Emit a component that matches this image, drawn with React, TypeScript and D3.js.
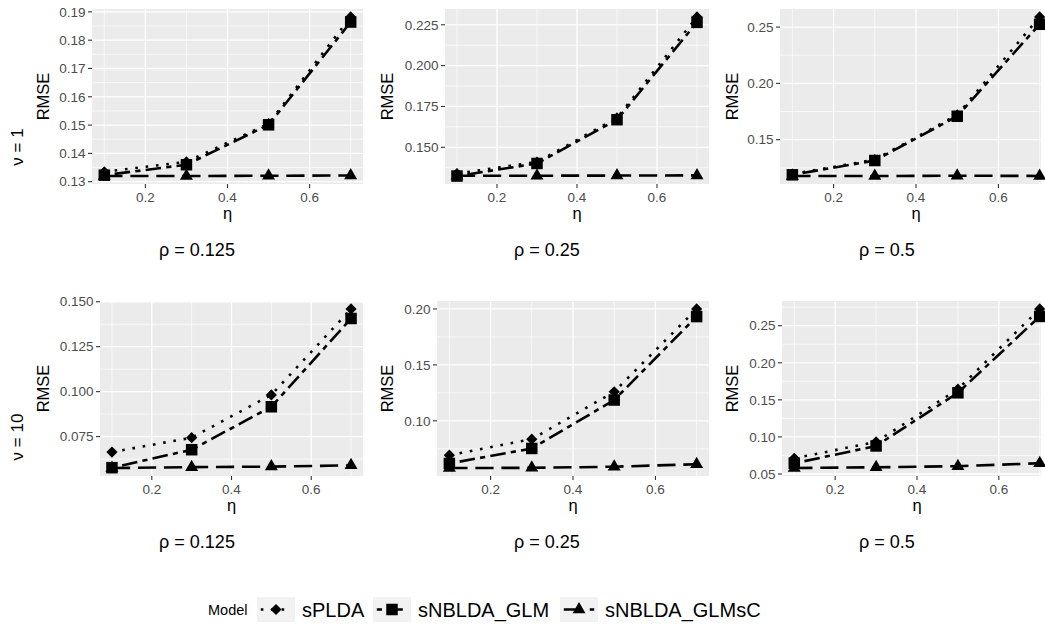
import React from 'react';
import * as d3 from 'd3';

// x values (eta) shared by every panel
const eta = [0.1, 0.3, 0.5, 0.7];
const xTicks = [0.2, 0.4, 0.6];
const models = ['sPLDA', 'sNBLDA_GLM', 'sNBLDA_GLMsC'];
const nuLabels = ['ν = 1', 'ν = 10'];
const rhoLabels = ['ρ = 0.125', 'ρ = 0.25', 'ρ = 0.5'];

// RMSE, nu = 1
const sPLDA_nu1 = [
  [0.1335, 0.1370, 0.1505, 0.1882],
  [0.1339, 0.1410, 0.1680, 0.2298],
  [0.1195, 0.1322, 0.1720, 0.2590],
];
const GLM_nu1 = [
  [0.1323, 0.1360, 0.1501, 0.1864],
  [0.1324, 0.1401, 0.1669, 0.2265],
  [0.1188, 0.1315, 0.1708, 0.2525],
];
const GLMsC_nu1 = [
  [0.1320, 0.1320, 0.1321, 0.1322],
  [0.1326, 0.1326, 0.1327, 0.1328],
  [0.1178, 0.1177, 0.1180, 0.1178],
];
// nu = 10
const sPLDA_nu10 = [
  [0.0664, 0.0744, 0.0982, 0.1460],
  [0.0693, 0.0836, 0.1260, 0.2000],
  [0.0712, 0.0932, 0.1644, 0.2726],
];
const GLM_nu10 = [
  [0.0577, 0.0677, 0.0916, 0.1407],
  [0.0619, 0.0753, 0.1186, 0.1932],
  [0.0644, 0.0878, 0.1595, 0.2625],
];
const GLMsC_nu10 = [
  [0.0575, 0.0580, 0.0583, 0.0590],
  [0.0578, 0.0580, 0.0590, 0.0612],
  [0.0580, 0.0590, 0.0605, 0.0645],
];

// y axis breaks per panel
const yTicks_nu1 = [
  ['0.13', '0.14', '0.15', '0.16', '0.17', '0.18', '0.19'],
  ['0.150', '0.175', '0.200', '0.225'],
  ['0.15', '0.20', '0.25'],
];
const yTicks_nu10 = [
  ['0.075', '0.100', '0.125', '0.150'],
  ['0.10', '0.15', '0.20'],
  ['0.05', '0.10', '0.15', '0.20', '0.25'],
];

const rows = [
  { series: [sPLDA_nu1, GLM_nu1, GLMsC_nu1], ticks: yTicks_nu1 },
  { series: [sPLDA_nu10, GLM_nu10, GLMsC_nu10], ticks: yTicks_nu10 },
];

// layout
const W = 1045, H = 628;
const font = 'Liberation Sans, Arial, Helvetica, sans-serif';
const panelLeft = [[92, 445, 780], [100, 437, 782]];
const colRight = [363, 709, 1052];
const panelTop = [9, 301];
const panelBottom = [184, 476];
const rmseX = [43, 387, 732];
const rhoX = [197, 547, 887];
const nuY = [147, 437];

const lw = 2.6;
// dotted, twodash, longdash
const dashes = [
  `${lw} ${3 * lw}`,
  `${2 * lw} ${2 * lw} ${6 * lw} ${2 * lw}`,
  `${7 * lw} ${3 * lw}`,
];

function Shape({ kind, x, y }: { kind: number; x: number; y: number }) {
  if (kind === 0) {
    const r = 5.6;
    return <path d={`M${x},${y - r}L${x + r},${y}L${x},${y + r}L${x - r},${y}Z`} fill="#000" />;
  }
  if (kind === 1) {
    const s = 11.5;
    return <rect x={x - s / 2} y={y - s / 2} width={s} height={s} fill="#000" />;
  }
  const r = 7.5;
  const hx = r * 0.866;
  return <path d={`M${x},${y - r}L${x + hx},${y + r / 2}L${x - hx},${y + r / 2}Z`} fill="#000" />;
}

function Panel({ ri, ci }: { ri: number; ci: number }) {
  const row = rows[ri];
  const vals = row.series.map((s) => s[ci]);
  const all = vals.flat();
  const lo = d3.min(all)!, hi = d3.max(all)!;
  const pad = (hi - lo) * 0.05;
  const x0 = panelLeft[ri][ci], x1 = colRight[ci];
  const top = panelTop[ri], bottom = panelBottom[ri];
  const rectRight = Math.min(x1, 1041);
  const x = d3.scaleLinear().domain([0.07, 0.73]).range([x0, x1]);
  const y = d3.scaleLinear().domain([lo - pad, hi + pad]).range([bottom, top]);
  const ticks = row.ticks[ci];
  const tv = ticks.map(Number);
  const step = tv[1] - tv[0];
  const minorY = [tv[0] - step / 2, ...tv.map((t) => t + step / 2)].filter(
    (v) => v > lo - pad && v < hi + pad
  );
  const minorX = eta;
  const line = d3
    .line<number>()
    .x((_, i) => x(eta[i]))
    .y((d) => y(d));
  const clipId = `clip-${ri}-${ci}`;
  return (
    <g>
      <defs>
        <clipPath id={clipId}>
          <rect x={x0} y={top} width={W - x0} height={bottom - top} />
        </clipPath>
      </defs>
      <rect x={x0} y={top} width={rectRight - x0} height={bottom - top} fill="#EBEBEB" />
      <g clipPath={`url(#${clipId})`}>
        {minorY.map((v) => (
          <line key={'my' + v} x1={x0} x2={rectRight} y1={y(v)} y2={y(v)} stroke="#fff" strokeWidth={0.65} />
        ))}
        {minorX.map((v) => (
          <line key={'mx' + v} x1={x(v)} x2={x(v)} y1={top} y2={bottom} stroke="#fff" strokeWidth={0.65} />
        ))}
        {tv.map((v) => (
          <line key={'y' + v} x1={x0} x2={rectRight} y1={y(v)} y2={y(v)} stroke="#fff" strokeWidth={1.3} />
        ))}
        {xTicks.map((v) => (
          <line key={'x' + v} x1={x(v)} x2={x(v)} y1={top} y2={bottom} stroke="#fff" strokeWidth={1.3} />
        ))}
        {vals.map((s, k) => (
          <path key={'l' + k} d={line(s)!} fill="none" stroke="#000" strokeWidth={lw} strokeDasharray={dashes[k]} />
        ))}
        {vals.map((s, k) => s.map((v, i) => <Shape key={`p${k}-${i}`} kind={k} x={x(eta[i])} y={y(v)} />))}
      </g>
      {/* y axis */}
      {tv.map((v, i) => (
        <g key={'yt' + v}>
          <line x1={x0 - 4} x2={x0} y1={y(v)} y2={y(v)} stroke="#333" strokeWidth={1.1} />
          <text x={x0 - 6.5} y={y(v)} dy="0.35em" textAnchor="end" fontSize={13.5} fill="#4D4D4D" fontFamily={font}>
            {ticks[i]}
          </text>
        </g>
      ))}
      {/* x axis */}
      {xTicks.map((v) => (
        <g key={'xt' + v}>
          <line x1={x(v)} x2={x(v)} y1={bottom} y2={bottom + 4} stroke="#333" strokeWidth={1.1} />
          <text x={x(v)} y={bottom + 18} textAnchor="middle" fontSize={13.5} fill="#4D4D4D" fontFamily={font}>
            {d3.format('.1f')(v)}
          </text>
        </g>
      ))}
      <text x={(x0 + x1) / 2} y={bottom + 35} textAnchor="middle" fontSize={16.5} fontFamily={font}>
        η
      </text>
      <text
        transform={`translate(${rmseX[ci]},${(top + bottom) / 2}) rotate(-90)`}
        dy="0.35em"
        textAnchor="middle"
        fontSize={16.5}
        fontFamily={font}
      >
        RMSE
      </text>
      <text x={rhoX[ci]} y={bottom + 72} textAnchor="middle" fontSize={18} fontFamily={font}>
        {rhoLabels[ci]}
      </text>
    </g>
  );
}

const legendKeyX = [257, 373, 560];
const legendLabelX = [302, 418, 605];

function Legend() {
  const kt = 597, kh = 25, kw = 38;
  const cy = kt + kh / 2;
  return (
    <g fontFamily={font}>
      <text x={208} y={cy + 5} fontSize={14.5}>
        Model
      </text>
      {models.map((m, k) => (
        <g key={m}>
          <rect x={legendKeyX[k]} y={kt} width={kw} height={kh} fill="#F2F2F2" />
          <line
            x1={legendKeyX[k] + kw * 0.1}
            x2={legendKeyX[k] + kw * 0.9}
            y1={cy}
            y2={cy}
            stroke="#000"
            strokeWidth={lw}
            strokeDasharray={dashes[k]}
          />
          <Shape kind={k} x={legendKeyX[k] + kw / 2} y={cy} />
          <text x={legendLabelX[k]} y={cy + 7} fontSize={20}>
            {m}
          </text>
        </g>
      ))}
    </g>
  );
}

export default function App() {
  return (
    <svg width={W} height={H} style={{ position: 'absolute', left: 0, top: 0, background: '#fff' }}>
      <rect width={W} height={H} fill="#fff" />
      {rows.map((_, ri) =>
        [0, 1, 2].map((ci) => <Panel key={`${ri}-${ci}`} ri={ri} ci={ci} />)
      )}
      {nuLabels.map((t, ri) => (
        <text
          key={t}
          transform={`translate(17,${nuY[ri]}) rotate(-90)`}
          dy="0.35em"
          textAnchor="middle"
          fontSize={17}
          fontFamily={font}
        >
          {t}
        </text>
      ))}
      <Legend />
    </svg>
  );
}
